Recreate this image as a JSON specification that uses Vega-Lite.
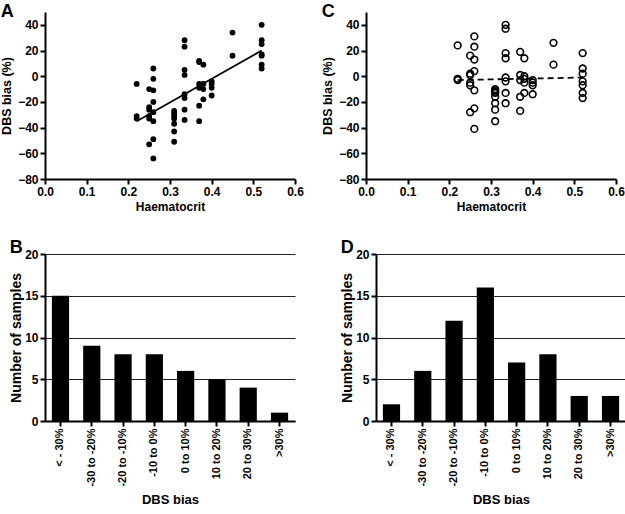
{
  "$schema": "https://vega.github.io/schema/vega-lite/v6.json",
  "background": "white",
  "padding": {"left": 0, "top": 3, "right": 0, "bottom": 2},
  "config": {
    "font": "Liberation Sans",
    "view": {"stroke": null},
    "axis": {
      "domainColor": "black", "domainWidth": 2, "tickColor": "black", "tickWidth": 2, "tickSize": 5,
      "labelFont": "Liberation Sans", "labelFontWeight": "bold", "labelFontSize": 12, "labelColor": "black", "labelOverlap": false, "labelPadding": 2,
      "titleFont": "Liberation Sans", "titleFontWeight": "bold", "titleFontSize": 12, "titleColor": "black",
      "grid": false
    }
  },
  "datasets": {
    "a_pts": [
      {"hct": 0.22, "bias": -6}, {"hct": 0.22, "bias": -31}, {"hct": 0.22, "bias": -33},
      {"hct": 0.25, "bias": -10}, {"hct": 0.25, "bias": -24}, {"hct": 0.25, "bias": -26}, {"hct": 0.25, "bias": -31}, {"hct": 0.25, "bias": -33}, {"hct": 0.25, "bias": -53},
      {"hct": 0.26, "bias": 6}, {"hct": 0.26, "bias": -2}, {"hct": 0.26, "bias": -11}, {"hct": 0.26, "bias": -20}, {"hct": 0.26, "bias": -28}, {"hct": 0.26, "bias": -35}, {"hct": 0.26, "bias": -49}, {"hct": 0.26, "bias": -64},
      {"hct": 0.31, "bias": -27}, {"hct": 0.31, "bias": -29}, {"hct": 0.31, "bias": -31}, {"hct": 0.31, "bias": -33}, {"hct": 0.31, "bias": -37}, {"hct": 0.31, "bias": -43}, {"hct": 0.31, "bias": -51},
      {"hct": 0.335, "bias": 28}, {"hct": 0.335, "bias": 23}, {"hct": 0.335, "bias": 5}, {"hct": 0.335, "bias": 1}, {"hct": 0.335, "bias": -14}, {"hct": 0.335, "bias": -17}, {"hct": 0.335, "bias": -26}, {"hct": 0.335, "bias": -34},
      {"hct": 0.37, "bias": 12}, {"hct": 0.37, "bias": 11}, {"hct": 0.37, "bias": -6}, {"hct": 0.37, "bias": -9}, {"hct": 0.37, "bias": -23}, {"hct": 0.37, "bias": -35},
      {"hct": 0.38, "bias": 9}, {"hct": 0.38, "bias": -6}, {"hct": 0.38, "bias": -10}, {"hct": 0.38, "bias": -18},
      {"hct": 0.40, "bias": -4}, {"hct": 0.40, "bias": -6}, {"hct": 0.40, "bias": -9}, {"hct": 0.40, "bias": -15},
      {"hct": 0.45, "bias": 34}, {"hct": 0.45, "bias": 16},
      {"hct": 0.52, "bias": 40}, {"hct": 0.52, "bias": 28}, {"hct": 0.52, "bias": 25}, {"hct": 0.52, "bias": 17}, {"hct": 0.52, "bias": 16}, {"hct": 0.52, "bias": 9}, {"hct": 0.52, "bias": 6}
    ],
    "a_fit": [{"hct": 0.22, "bias": -35}, {"hct": 0.52, "bias": 20}],
    "c_pts": [
      {"hct": 0.22, "bias": 24}, {"hct": 0.22, "bias": -2}, {"hct": 0.22, "bias": -3},
      {"hct": 0.25, "bias": 16}, {"hct": 0.25, "bias": 2}, {"hct": 0.25, "bias": 1}, {"hct": 0.25, "bias": -5}, {"hct": 0.25, "bias": -7}, {"hct": 0.25, "bias": -28},
      {"hct": 0.26, "bias": 31}, {"hct": 0.26, "bias": 23}, {"hct": 0.26, "bias": 13}, {"hct": 0.26, "bias": 4}, {"hct": 0.26, "bias": -11}, {"hct": 0.26, "bias": -25}, {"hct": 0.26, "bias": -41},
      {"hct": 0.31, "bias": -10}, {"hct": 0.31, "bias": -11}, {"hct": 0.31, "bias": -12}, {"hct": 0.31, "bias": -13}, {"hct": 0.31, "bias": -16}, {"hct": 0.31, "bias": -21}, {"hct": 0.31, "bias": -26}, {"hct": 0.31, "bias": -35},
      {"hct": 0.335, "bias": 40}, {"hct": 0.335, "bias": 37}, {"hct": 0.335, "bias": 18}, {"hct": 0.335, "bias": 14}, {"hct": 0.335, "bias": -1}, {"hct": 0.335, "bias": -4}, {"hct": 0.335, "bias": -13}, {"hct": 0.335, "bias": -21},
      {"hct": 0.37, "bias": 19}, {"hct": 0.37, "bias": 1}, {"hct": 0.37, "bias": -3}, {"hct": 0.37, "bias": -16}, {"hct": 0.37, "bias": -27},
      {"hct": 0.38, "bias": 14}, {"hct": 0.38, "bias": 0}, {"hct": 0.38, "bias": -2}, {"hct": 0.38, "bias": -5}, {"hct": 0.38, "bias": -13},
      {"hct": 0.40, "bias": -3}, {"hct": 0.40, "bias": -5}, {"hct": 0.40, "bias": -7}, {"hct": 0.40, "bias": -14},
      {"hct": 0.45, "bias": 26}, {"hct": 0.45, "bias": 9},
      {"hct": 0.52, "bias": 18}, {"hct": 0.52, "bias": 6}, {"hct": 0.52, "bias": 2}, {"hct": 0.52, "bias": -4}, {"hct": 0.52, "bias": -7}, {"hct": 0.52, "bias": -13}, {"hct": 0.52, "bias": -17}
    ],
    "c_fit": [{"hct": 0.22, "bias": -3}, {"hct": 0.52, "bias": -1}],
    "b_hist": [
      {"bin": "< - 30%", "n": 15}, {"bin": "-30 to -20%", "n": 9}, {"bin": "-20 to -10%", "n": 8}, {"bin": "-10 to 0%", "n": 8},
      {"bin": "0 to 10%", "n": 6}, {"bin": "10 to 20%", "n": 5}, {"bin": "20 to 30%", "n": 4}, {"bin": ">30%", "n": 1}
    ],
    "d_hist": [
      {"bin": "< - 30%", "n": 2}, {"bin": "-30 to -20%", "n": 6}, {"bin": "-20 to -10%", "n": 12}, {"bin": "-10 to 0%", "n": 16},
      {"bin": "0 to 10%", "n": 7}, {"bin": "10 to 20%", "n": 8}, {"bin": "20 to 30%", "n": 3}, {"bin": ">30%", "n": 3}
    ]
  },
  "vconcat": [
    {
      "hconcat": [
        {
          "title": {"text": "A", "anchor": "start", "frame": "bounds", "offset": -9, "fontSize": 18, "fontWeight": "bold", "color": "black", "font": "Liberation Sans"},
          "width": 250, "height": 167,
          "layer": [
            {"data": {"name": "a_pts"}, "mark": {"type": "circle", "color": "black", "opacity": 1, "size": 34},
             "encoding": {
               "x": {"field": "hct", "type": "quantitative", "title": "Haematocrit", "scale": {"domain": [0, 0.6], "nice": false},
                     "axis": {"values": [0, 0.1, 0.2, 0.3, 0.4, 0.5, 0.6], "tickCount": 7, "format": ".1f", "labelFlush": false, "labelOverlap": false}},
               "y": {"field": "bias", "type": "quantitative", "title": "DBS bias (%)", "scale": {"domain": [-80, 50], "nice": false},
                     "axis": {"values": [-80, -60, -40, -20, 0, 20, 40], "tickCount": 7, "labelFlush": false, "labelOverlap": false, "titleFontSize": 12.5}}
             }},
            {"mark": {"type": "rule", "color": "black", "strokeWidth": 1.5, "strokeDash": [2, 3]},
             "encoding": {"y": {"datum": 0, "type": "quantitative"}}},
            {"data": {"name": "a_fit"}, "mark": {"type": "line", "color": "black", "strokeWidth": 1.8},
             "encoding": {"x": {"field": "hct", "type": "quantitative"}, "y": {"field": "bias", "type": "quantitative"}}},
            {"mark": {"type": "text", "text": "R²=0.467", "align": "left", "baseline": "middle", "fontSize": 13, "fontWeight": "bold", "color": "black"},
             "encoding": {"x": {"datum": 0.032, "type": "quantitative"}, "y": {"datum": 35, "type": "quantitative"}}}
          ]
        },
        {
          "title": {"text": "C", "anchor": "start", "frame": "bounds", "offset": -9, "fontSize": 18, "fontWeight": "bold", "color": "black", "font": "Liberation Sans"},
          "width": 250, "height": 167,
          "layer": [
            {"data": {"name": "c_pts"}, "mark": {"type": "point", "shape": "circle", "color": "black", "filled": false, "opacity": 1, "strokeWidth": 1.6, "size": 45},
             "encoding": {
               "x": {"field": "hct", "type": "quantitative", "title": "Haematocrit", "scale": {"domain": [0, 0.6], "nice": false},
                     "axis": {"values": [0, 0.1, 0.2, 0.3, 0.4, 0.5, 0.6], "tickCount": 7, "format": ".1f", "labelFlush": false, "labelOverlap": false}},
               "y": {"field": "bias", "type": "quantitative", "title": "DBS bias (%)", "scale": {"domain": [-80, 50], "nice": false},
                     "axis": {"values": [-80, -60, -40, -20, 0, 20, 40], "tickCount": 7, "labelFlush": false, "labelOverlap": false, "titleFontSize": 12.5}}
             }},
            {"mark": {"type": "rule", "color": "black", "strokeWidth": 1.5, "strokeDash": [2, 3]},
             "encoding": {"y": {"datum": 0, "type": "quantitative"}}},
            {"data": {"name": "c_fit"}, "mark": {"type": "line", "color": "black", "strokeWidth": 1.8, "strokeDash": [6, 4]},
             "encoding": {"x": {"field": "hct", "type": "quantitative"}, "y": {"field": "bias", "type": "quantitative"}}},
            {"mark": {"type": "text", "text": "R²=0.002", "align": "left", "baseline": "middle", "fontSize": 13, "fontWeight": "bold", "color": "black"},
             "encoding": {"x": {"datum": 0.032, "type": "quantitative"}, "y": {"datum": 35, "type": "quantitative"}}}
          ]
        }
      ],
      "spacing": 17
    },
    {
      "hconcat": [
        {
          "title": {"text": "B", "anchor": "start", "frame": "bounds", "offset": -9, "fontSize": 18, "fontWeight": "bold", "color": "black", "font": "Liberation Sans"},
          "width": 250, "height": 167,
          "data": {"name": "b_hist"},
          "mark": {"type": "bar", "color": "black"},
          "encoding": {
            "x": {"field": "bin", "type": "nominal", "sort": null, "title": "DBS bias",
                  "scale": {"paddingInner": 0.45, "paddingOuter": 0.22},
                  "axis": {"labelAngle": -90, "labelAlign": "right", "labelBaseline": "middle", "labelFontSize": 11, "titlePadding": 7, "titleFontSize": 13}},
            "y": {"field": "n", "type": "quantitative", "title": "Number of samples", "scale": {"domain": [0, 20], "nice": false},
                  "axis": {"values": [0, 5, 10, 15, 20], "tickCount": 5, "grid": true, "gridColor": "#222", "gridWidth": 1.2, "gridOpacity": 1, "labelFlush": false, "titleFontSize": 14, "titlePadding": 1}}
          }
        },
        {
          "title": {"text": "D", "anchor": "start", "frame": "bounds", "offset": -9, "fontSize": 18, "fontWeight": "bold", "color": "black", "font": "Liberation Sans"},
          "width": 250, "height": 167,
          "data": {"name": "d_hist"},
          "mark": {"type": "bar", "color": "black"},
          "encoding": {
            "x": {"field": "bin", "type": "nominal", "sort": null, "title": "DBS bias",
                  "scale": {"paddingInner": 0.45, "paddingOuter": 0.22},
                  "axis": {"labelAngle": -90, "labelAlign": "right", "labelBaseline": "middle", "labelFontSize": 11, "titlePadding": 7, "titleFontSize": 13}},
            "y": {"field": "n", "type": "quantitative", "title": "Number of samples", "scale": {"domain": [0, 20], "nice": false},
                  "axis": {"values": [0, 5, 10, 15, 20], "tickCount": 5, "grid": true, "gridColor": "#222", "gridWidth": 1.2, "gridOpacity": 1, "labelFlush": false, "titleFontSize": 14, "titlePadding": 1}}
          }
        }
      ],
      "spacing": 45
    }
  ],
  "spacing": 27
}
